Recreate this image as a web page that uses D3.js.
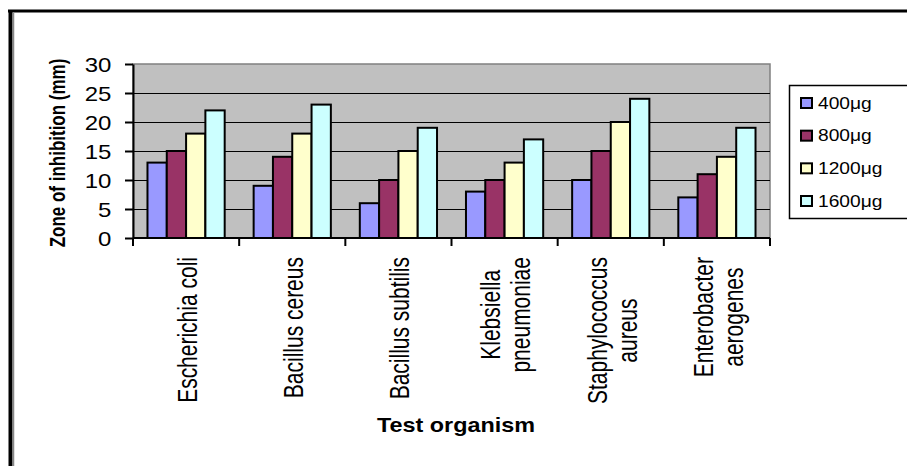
<!DOCTYPE html>
<html><head><meta charset="utf-8">
<script src="https://cdn.jsdelivr.net/npm/d3@7"></script>
<style>
html,body{margin:0;padding:0;background:#fff;}
text{font-family:Arial,"Liberation Sans",sans-serif;fill:#000;}
</style></head>
<body>
<svg id="chart" width="907" height="466"></svg>
<script>
const categories = ["Escherichia coli","Bacillus cereus","Bacillus subtilis","Klebsiella pneumoniae","Staphylococcus aureus","Enterobacter aerogenes"];
const categoryLines = [["Escherichia coli"],["Bacillus cereus"],["Bacillus subtilis"],["Klebsiella","pneumoniae"],["Staphylococcus","aureus"],["Enterobacter","aerogenes"]];
const seriesNames = ["400μg","800μg","1200μg","1600μg"];
const s400  = [13, 9, 6, 8, 10, 7];
const s800  = [15, 14, 10, 10, 15, 11];
const s1200 = [18, 18, 15, 13, 20, 14];
const s1600 = [22, 23, 19, 17, 24, 19];
const seriesValues = [s400, s800, s1200, s1600];
const seriesColors = ["#9999FF","#993366","#FFFFCC","#CCFFFF"];
const yTicks = [0,5,10,15,20,25,30];
const yTitle = "Zone of inhibition (mm)";
const xTitle = "Test organism";

const svg = d3.select("#chart");
const L = 133, R = 770, T = 64, B = 238;
const SX = 1.2, SR = 1.3;

// outer frame
svg.append("line").attr("x1",8).attr("x2",910).attr("y1",11).attr("y2",11).attr("stroke","#000").attr("stroke-width",3);
svg.append("line").attr("x1",10.5).attr("x2",10.5).attr("y1",10).attr("y2",470).attr("stroke","#000").attr("stroke-width",4);
svg.append("line").attr("x1",13.5).attr("x2",13.5).attr("y1",12).attr("y2",470).attr("stroke","#888").attr("stroke-width",1.5);

const x0 = d3.scaleBand().domain(categories).range([L,R]).padding(0);
const x1 = d3.scaleBand().domain(seriesNames).range([0,x0.bandwidth()]).paddingInner(0).paddingOuter(0.75);
const y = d3.scaleLinear().domain([0,30]).range([B,T]);

// plot area
svg.append("rect").attr("x",L).attr("y",T).attr("width",R-L).attr("height",B-T)
  .attr("fill","#C0C0C0").attr("stroke","#808080").attr("stroke-width",1.5);

// gridlines
svg.append("g").selectAll("line").data(yTicks.filter(v=>v>0&&v<30)).join("line")
  .attr("x1",L).attr("x2",R).attr("y1",d=>Math.round(y(d))+0.5).attr("y2",d=>Math.round(y(d))+0.5)
  .attr("stroke","#000").attr("stroke-width",1);

// bars
const groups = svg.append("g").selectAll("g").data(categories).join("g")
  .attr("transform",d=>`translate(${x0(d)},0)`);
groups.selectAll("rect").data((c,i)=>seriesNames.map((s,j)=>({s, v:seriesValues[j][i], c:seriesColors[j]}))).join("rect")
  .attr("x",d=>x1(d.s)).attr("width",x1.bandwidth())
  .attr("y",d=>y(d.v)).attr("height",d=>y(0)-y(d.v))
  .attr("fill",d=>d.c).attr("stroke","#000").attr("stroke-width",2);

// y axis
const yAxis = svg.append("g").attr("transform",`translate(${L},0)`)
  .call(d3.axisLeft(y).tickValues(yTicks).tickSize(8).tickSizeOuter(0));
yAxis.select(".domain").attr("stroke","#000").attr("stroke-width",2);
yAxis.selectAll(".tick line").attr("stroke","#000").attr("stroke-width",2);
yAxis.selectAll(".tick text").attr("x",-18).attr("dy","0.36em")
  .attr("transform",`scale(${SX},1)`).style("font-size","20px").style("font-family","Arial, 'Liberation Sans', sans-serif").attr("fill","#000");

// x axis
const xAxis = svg.append("g").attr("transform",`translate(0,${B})`);
xAxis.append("line").attr("x1",L).attr("x2",R).attr("y1",0).attr("y2",0).attr("stroke","#000").attr("stroke-width",2);
const bounds = categories.map(c=>x0(c)).concat([R]);
xAxis.selectAll("line.tk").data(bounds).join("line").attr("class","tk")
  .attr("x1",d=>d).attr("x2",d=>d).attr("y1",0).attr("y2",8).attr("stroke","#000").attr("stroke-width",2);

// category labels
const lineH = 23;
categories.forEach((c,i)=>{
  const lines = categoryLines[i];
  const cx = x0(c) + x0.bandwidth()/2 + 1;
  const g = svg.append("g");
  const texts = lines.map((ln,k)=> g.append("text").text(ln).style("font-size","21px").attr("text-anchor","middle"));
  const maxLen = d3.max(texts, t=>t.node().getComputedTextLength());
  const cy = 257 + maxLen/2;
  texts.forEach((t,k)=>{
    const off = (k - (lines.length-1)/2)*lineH;
    t.attr("transform",`translate(${cx},${cy}) scale(${SR},1) rotate(-90)`)
     .attr("y", off).attr("dy","0.36em");
  });
});

// axis titles
svg.append("text").text(yTitle).attr("text-anchor","middle")
  .attr("transform",`translate(57,153) scale(${SR},1) rotate(-90)`).attr("dy","0.36em")
  .style("font-size","17px").style("font-weight","bold");
svg.append("text").text(xTitle).attr("text-anchor","middle")
  .attr("transform",`translate(456,432) scale(1.17,1)`)
  .style("font-size","20px").style("font-weight","bold");

// legend
svg.append("rect").attr("x",789.5).attr("y",85.5).attr("width",130).attr("height",133)
  .attr("fill","#fff").attr("stroke","#000").attr("stroke-width",1.5);
const rowY = d3.scalePoint().domain(seriesNames).range([103,201]);
const lg = svg.append("g").selectAll("g").data(seriesNames).join("g")
  .attr("transform",d=>`translate(0,${rowY(d)})`);
lg.append("rect").attr("x",801).attr("y",-5).attr("width",11).attr("height",10)
  .attr("fill",(d,i)=>seriesColors[i]).attr("stroke","#000").attr("stroke-width",2);
lg.append("text").text(d=>d).attr("transform",`translate(818,0) scale(${SX},1)`).attr("dy","0.36em")
  .style("font-size","16px");
</script>
</body></html>
